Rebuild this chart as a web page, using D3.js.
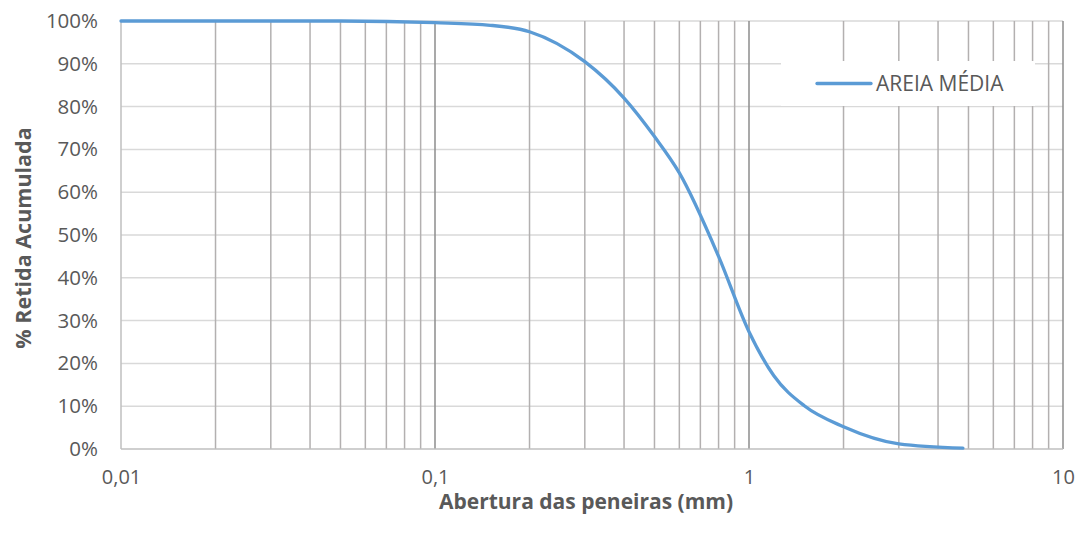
<!DOCTYPE html>
<meta charset="utf-8">
<style>
  body { margin: 0; background: #fff; }
  text { font-family: "Open Sans", sans-serif; fill: #595959; }
</style>

<!-- Load d3.js -->
<script src="https://d3js.org/d3.v7.min.js"></script>

<div id="my_dataviz"></div>

<script>

  // data (opening in mm, % retained)
  var sieveSizes = [0.01, 0.05, 0.1, 0.15, 0.2, 0.3, 0.4, 0.5, 0.6, 0.8, 1.0, 1.2, 1.5, 2.0, 3.0, 4.8];
  var retained = [100, 100, 99.6, 99, 97.5, 90.5, 82, 73, 64.5, 45, 27.4, 17.1, 10.1, 5.2, 1.2, 0.2];
  var seriesName = "AREIA MÉDIA";
  var xTickValues = [0.01, 0.1, 1, 10];
  var xTickLabels = ["0,01", "0,1", "1", "10"];
  var yTickValues = [0, 10, 20, 30, 40, 50, 60, 70, 80, 90, 100];

  var data = sieveSizes.map(function (s, i) { return { size: s, pct: retained[i] }; });

  // set the dimensions and margins of the graph
  var margin = { top: 21, right: 20, bottom: 85, left: 121 },
    width = 1083 - margin.left - margin.right,
    height = 534 - margin.top - margin.bottom;

  var svg = d3.select("#my_dataviz")
    .append("svg")
    .attr("width", 1083)
    .attr("height", 534)
    .append("g")
    .attr("transform", "translate(" + margin.left + "," + margin.top + ")");

  var x = d3.scaleLog()
    .domain([0.01, 10])
    .range([0, width]);

  var y = d3.scaleLinear()
    .domain([0, 100])
    .range([height, 0]);

  // horizontal gridlines
  svg.append("g")
    .selectAll("line")
    .data(yTickValues.filter(function (d) { return d > 0; }))
    .enter()
    .append("line")
    .attr("x1", 0)
    .attr("x2", width)
    .attr("y1", function (d) { return y(d); })
    .attr("y2", function (d) { return y(d); })
    .attr("stroke", "#d9d9d9")
    .attr("stroke-width", 1.5);

  // vertical gridlines: minor 2..9 in every decade, major at decades
  var minor = [];
  [0.01, 0.1, 1].forEach(function (dec) {
    for (var k = 2; k <= 9; k++) minor.push(dec * k);
  });
  svg.append("g")
    .selectAll("line")
    .data(minor)
    .enter()
    .append("line")
    .attr("x1", function (d) { return x(d); })
    .attr("x2", function (d) { return x(d); })
    .attr("y1", 0)
    .attr("y2", height)
    .attr("stroke", "#b3b0b0")
    .attr("stroke-width", 1.5);

  svg.append("g")
    .selectAll("line")
    .data([0.1, 1, 10])
    .enter()
    .append("line")
    .attr("x1", function (d) { return x(d); })
    .attr("x2", function (d) { return x(d); })
    .attr("y1", 0)
    .attr("y2", height)
    .attr("stroke", "#8c8c8c")
    .attr("stroke-width", 1.5);

  // axis lines
  svg.append("line")
    .attr("x1", 0).attr("x2", 0)
    .attr("y1", 0).attr("y2", height)
    .attr("stroke", "#bfbfbf")
    .attr("stroke-width", 1.5);
  svg.append("line")
    .attr("x1", 0).attr("x2", width)
    .attr("y1", height).attr("y2", height)
    .attr("stroke", "#bfbfbf")
    .attr("stroke-width", 1.5);

  // Y axis labels
  var yAxis = svg.append("g")
    .attr("transform", "translate(-23,0)")
    .call(d3.axisLeft(y).tickValues(yTickValues).tickSize(0).tickPadding(0)
      .tickFormat(function (d) { return d + "%"; }));
  yAxis.select(".domain").remove();
  yAxis.selectAll("text")
    .attr("font-size", 20.5)
    .attr("font-family", "Open Sans")
    .attr("fill", "#595959");

  // X axis labels
  var xAxis = svg.append("g")
    .attr("transform", "translate(0," + (height + 21) + ")")
    .call(d3.axisBottom(x).tickValues(xTickValues).tickSize(0).tickPadding(0)
      .tickFormat(function (d, i) { return xTickLabels[i]; }));
  xAxis.select(".domain").remove();
  xAxis.selectAll("text")
    .attr("font-size", 20)
    .attr("font-family", "Open Sans")
    .attr("fill", "#595959");

  // X axis title
  svg.append("text")
    .attr("text-anchor", "middle")
    .attr("x", 586 - margin.left)
    .attr("y", height + 60)
    .attr("font-size", 21)
    .attr("font-weight", "bold")
    .text("Abertura das peneiras (mm)");

  // Y axis title
  svg.append("text")
    .attr("text-anchor", "middle")
    .attr("transform", "rotate(-90)")
    .attr("x", -(238 - margin.top))
    .attr("y", -90)
    .attr("font-size", 21.5)
    .attr("font-weight", "bold")
    .text("% Retida Acumulada");

  // the curve
  var line = d3.line()
    .x(function (d) { return x(d.size); })
    .y(function (d) { return y(d.pct); })
    .curve(d3.curveMonotoneX);

  svg.append("path")
    .datum(data)
    .attr("d", line)
    .attr("fill", "none")
    .attr("stroke", "#5b9bd5")
    .attr("stroke-width", 3.3)
    .attr("stroke-linecap", "round");

  // legend
  var legend = svg.append("g")
    .attr("transform", "translate(" + (781 - margin.left) + "," + (61 - margin.top) + ")");
  legend.append("rect")
    .attr("width", 254)
    .attr("height", 45)
    .attr("fill", "#fff");
  legend.append("line")
    .attr("x1", 36).attr("x2", 90)
    .attr("y1", 22.5).attr("y2", 22.5)
    .attr("stroke", "#5b9bd5")
    .attr("stroke-width", 3.3)
    .attr("stroke-linecap", "round");
  legend.append("text")
    .attr("x", 95)
    .attr("y", 22.5)
    .attr("dy", "0.35em")
    .attr("font-size", 21)
    .text(seriesName);

</script>
